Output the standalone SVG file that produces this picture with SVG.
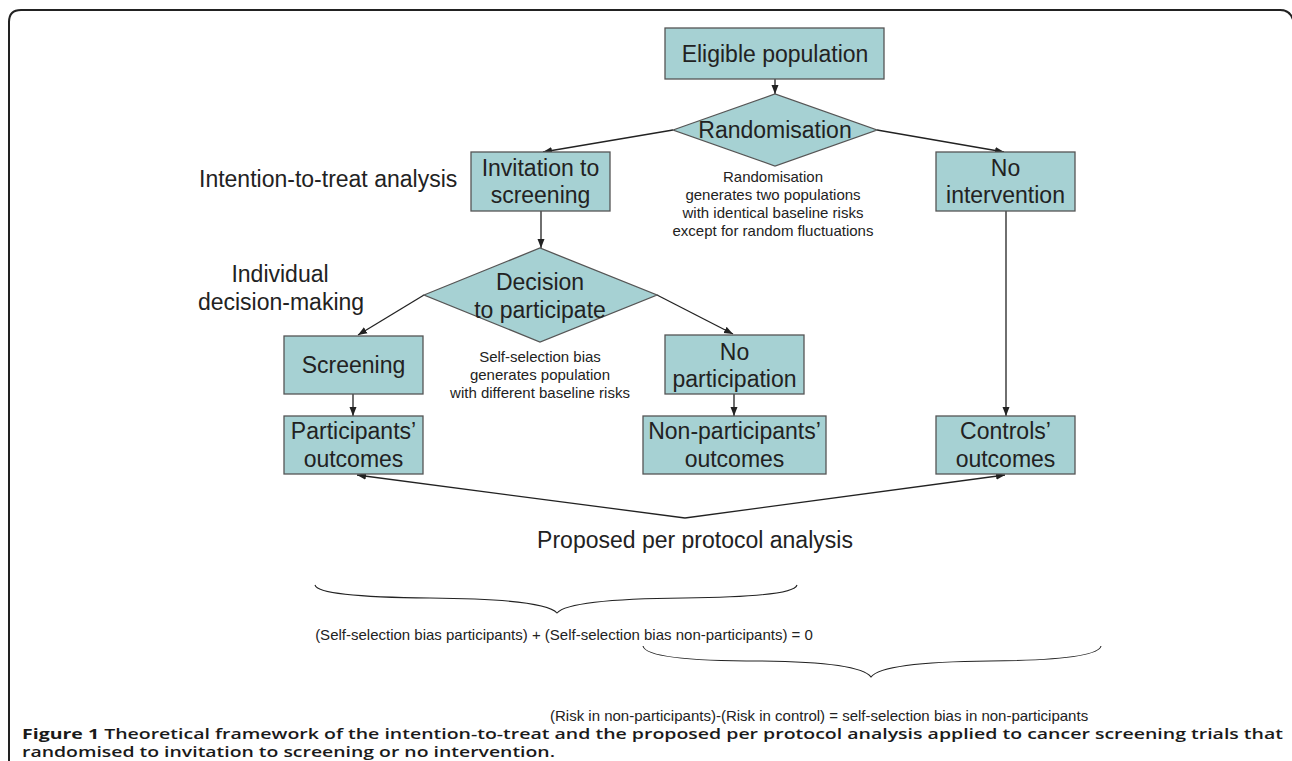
<svg xmlns="http://www.w3.org/2000/svg" width="1292" height="761" viewBox="0 0 1292 761">
<style>
.box{fill:#a6d1d3;stroke:#555;stroke-width:1.3}
.t{font-family:"Liberation Sans",Arial,sans-serif;font-size:23px;fill:#222;text-anchor:middle}
.s{font-family:"Liberation Sans",Arial,sans-serif;font-size:15px;fill:#222;text-anchor:middle}
.ln{fill:none;stroke:#222;stroke-width:1.3}
.br{fill:none;stroke:#222;stroke-width:1.1}
.cap{font-family:"Open Sans","Noto Sans",sans-serif;font-size:15px;fill:#1a1a1a;font-weight:600}
</style>
<defs>
<marker id="ah" markerUnits="userSpaceOnUse" markerWidth="10" markerHeight="8" refX="9" refY="4" orient="auto">
<path d="M0,0.5 L9,4 L0,7.5 z" fill="#222"/>
</marker>
</defs>
<rect width="1292" height="761" fill="#fff"/>
<path d="M9,761 L9,22 Q9,10 21,10 L1280,10 Q1292,10 1294,24 L1294,761" fill="none" stroke="#222" stroke-width="2"/>

<g id="connectors">
<line class="ln" x1="775" y1="79" x2="775" y2="94" marker-end="url(#ah)"/>
<line class="ln" x1="673" y1="130" x2="543" y2="152" marker-end="url(#ah)"/>
<line class="ln" x1="877" y1="130" x2="1004" y2="152" marker-end="url(#ah)"/>
<line class="ln" x1="541" y1="211" x2="541" y2="248" marker-end="url(#ah)"/>
<line class="ln" x1="424" y1="295" x2="358" y2="335" marker-end="url(#ah)"/>
<line class="ln" x1="657" y1="295" x2="733" y2="334" marker-end="url(#ah)"/>
<line class="ln" x1="353" y1="394" x2="353" y2="416" marker-end="url(#ah)"/>
<line class="ln" x1="734" y1="394" x2="734" y2="416" marker-end="url(#ah)"/>
<line class="ln" x1="1006" y1="211" x2="1006" y2="416" marker-end="url(#ah)"/>
<line class="ln" x1="685" y1="518" x2="357" y2="475" marker-end="url(#ah)"/>
<line class="ln" x1="685" y1="518" x2="1005" y2="475" marker-end="url(#ah)"/>
</g>

<g id="eligible">
<rect class="box" x="665" y="28" width="219" height="51"/>
<text class="t" x="775" y="62">Eligible population</text>
</g>
<g id="randomisation">
<polygon class="box" points="673,130 775,94 877,130 775,166"/>
<text class="t" x="775" y="138">Randomisation</text>
</g>
<g id="invitation">
<rect class="box" x="471" y="152" width="139" height="59"/>
<text class="t" x="540.5" y="176">Invitation to</text>
<text class="t" x="540.5" y="203">screening</text>
</g>
<g id="no-intervention">
<rect class="box" x="936" y="152" width="139" height="59"/>
<text class="t" x="1005.5" y="176">No</text>
<text class="t" x="1005.5" y="203">intervention</text>
</g>
<g id="decision">
<polygon class="box" points="424,295 540,248 657,295 540,342"/>
<text class="t" x="540" y="290">Decision</text>
<text class="t" x="540" y="318">to participate</text>
</g>
<g id="screening">
<rect class="box" x="284" y="336" width="139" height="58"/>
<text class="t" x="353.5" y="373">Screening</text>
</g>
<g id="no-participation">
<rect class="box" x="665" y="335" width="139" height="59"/>
<text class="t" x="734.5" y="360">No</text>
<text class="t" x="734.5" y="387">participation</text>
</g>
<g id="participants-outcomes">
<rect class="box" x="284" y="416" width="139" height="58"/>
<text class="t" x="353.5" y="439">Participants’</text>
<text class="t" x="353.5" y="467">outcomes</text>
</g>
<g id="non-participants-outcomes">
<rect class="box" x="643" y="416" width="183" height="58"/>
<text class="t" x="734.5" y="439">Non-participants’</text>
<text class="t" x="734.5" y="467">outcomes</text>
</g>
<g id="controls-outcomes">
<rect class="box" x="936" y="416" width="139" height="58"/>
<text class="t" x="1005.5" y="439">Controls’</text>
<text class="t" x="1005.5" y="467">outcomes</text>
</g>

<g id="labels">
<text class="t" x="199" y="187" style="text-anchor:start">Intention-to-treat analysis</text>
<text class="t" x="280" y="282">Individual</text>
<text class="t" x="281" y="310">decision-making</text>
<text class="s" x="773" y="182">Randomisation</text>
<text class="s" x="773" y="200">generates two populations</text>
<text class="s" x="773" y="218">with identical baseline risks</text>
<text class="s" x="773" y="236">except for random fluctuations</text>
<text class="s" x="540" y="362">Self-selection bias</text>
<text class="s" x="540" y="380">generates population</text>
<text class="s" x="540" y="398">with different baseline risks</text>
<text class="t" x="695" y="548">Proposed per protocol analysis</text>
</g>

<g id="braces">
<path class="br" d="M315,585 Q318,597 430,598 Q545,599 557,613 Q569,599 684,598 Q794,597 797,585"/>
<text class="s" x="564" y="640">(Self-selection bias participants) + (Self-selection bias non-participants) = 0</text>
<path class="br" d="M643,646 Q646,661 760,661 Q860,662 871,677 Q882,662 990,661 Q1098,660 1101,646"/>
<text class="s" x="550" y="721" style="text-anchor:start">(Risk in non-participants)-(Risk in control) = self-selection bias in non-participants</text>
</g>

<g id="caption">
<text class="cap" x="22" y="739" textLength="1261" lengthAdjust="spacingAndGlyphs"><tspan font-weight="700">Figure 1</tspan> Theoretical framework of the intention-to-treat and the proposed per protocol analysis applied to cancer screening trials that</text>
<text class="cap" x="22" y="757" textLength="533" lengthAdjust="spacingAndGlyphs">randomised to invitation to screening or no intervention.</text>
</g>
</svg>
